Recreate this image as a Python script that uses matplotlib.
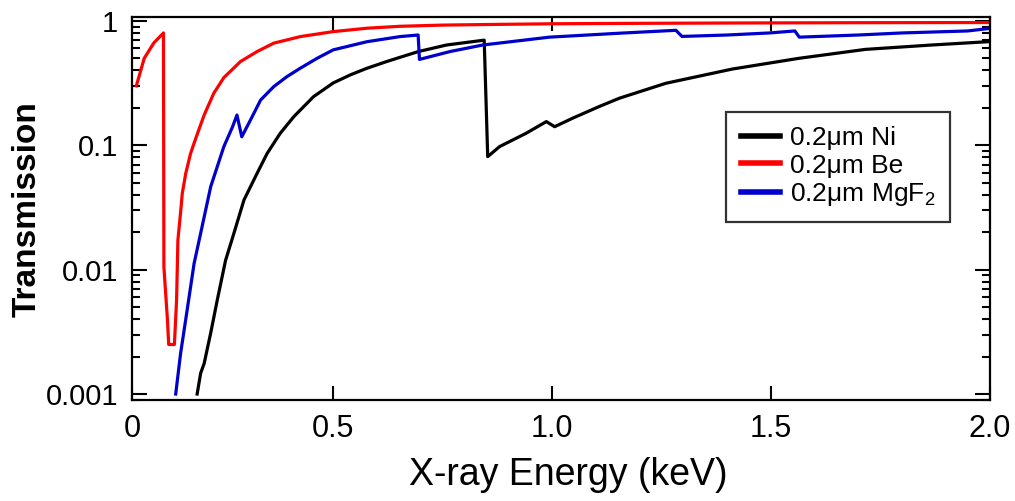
import matplotlib
matplotlib.use("Agg")
import matplotlib.pyplot as plt
from matplotlib.ticker import FixedLocator, LogLocator, NullFormatter, FixedFormatter

plt.rcParams['font.family'] = ['Liberation Sans', 'DejaVu Sans']
plt.rcParams['mathtext.fontset'] = 'custom'
plt.rcParams['mathtext.rm'] = 'Liberation Sans'
plt.rcParams['mathtext.it'] = 'Liberation Sans'

# Transmission curves (energy in keV)
ni_energy = [0.189, 0.197, 0.205, 0.220, 0.235, 0.254, 0.273, 0.296, 0.326, 0.349,
             0.379, 0.410, 0.455, 0.500, 0.539, 0.577, 0.622, 0.653, 0.694, 0.759,
             0.845, 0.853, 0.880, 0.941, 0.987, 1.006, 1.047, 1.108, 1.154, 1.260,
             1.412, 1.564, 1.716, 1.868, 1.995]
ni_trans = [0.001, 0.00147, 0.00176, 0.0031, 0.0057, 0.0119, 0.0196, 0.0363, 0.0595, 0.086,
            0.125, 0.17, 0.246, 0.317, 0.368, 0.416, 0.471, 0.51, 0.566, 0.64,
            0.70, 0.081, 0.0975, 0.125, 0.155, 0.141, 0.165, 0.205, 0.239, 0.315,
            0.41, 0.50, 0.59, 0.64, 0.68]

be_energy = [0.050, 0.068, 0.090, 0.112, 0.113, 0.121, 0.124, 0.137, 0.142, 0.145,
             0.151, 0.155, 0.163, 0.174, 0.182, 0.190, 0.205, 0.227, 0.250, 0.288,
             0.326, 0.364, 0.425, 0.500, 0.577, 0.653, 0.750, 0.850, 1.000, 1.200,
             1.430, 1.700, 2.000]
be_trans = [0.30, 0.50, 0.665, 0.80, 0.0105, 0.004, 0.0025, 0.0025, 0.0057, 0.0173,
            0.0285, 0.041, 0.0596, 0.086, 0.104, 0.125, 0.175, 0.262, 0.35, 0.471,
            0.567, 0.662, 0.748, 0.82, 0.873, 0.905, 0.925, 0.935, 0.948, 0.956,
            0.962, 0.967, 0.97]

mgf2_energy = [0.140, 0.151, 0.166, 0.182, 0.197, 0.220, 0.250, 0.270, 0.280, 0.291,
               0.311, 0.334, 0.364, 0.394, 0.425, 0.463, 0.500, 0.577, 0.653, 0.694,
               0.697, 0.767, 0.842, 0.994, 1.154, 1.283, 1.297, 1.400, 1.497, 1.555,
               1.565, 1.700, 1.800, 1.950, 2.000]
mgf2_trans = [0.001, 0.0021, 0.0047, 0.0112, 0.0196, 0.0465, 0.0975, 0.141, 0.175, 0.117,
              0.16, 0.231, 0.296, 0.356, 0.417, 0.50, 0.585, 0.68, 0.748, 0.77,
              0.49, 0.567, 0.64, 0.74, 0.796, 0.84, 0.75, 0.77, 0.80, 0.83,
              0.74, 0.77, 0.80, 0.83, 0.87]

labels = ['0.2\u03bcm Ni', '0.2\u03bcm Be', '0.2\u03bcm MgF$_2$']
colors = ['black', '#ff0000', '#0000cc']

x_ticks = [0.04, 0.5, 1.0, 1.5, 2.0]
x_tick_labels = ['0', '0.5', '1.0', '1.5', '2.0']
y_ticks = [0.001, 0.01, 0.1, 1]
y_tick_labels = ['0.001', '0.01', '0.1', '1']

fig = plt.figure(figsize=(10.15, 5.01), dpi=100)
ax = fig.add_axes([0.130, 0.2016, 0.845, 0.764])

series = [(ni_energy, ni_trans), (be_energy, be_trans), (mgf2_energy, mgf2_trans)]
for (ex, tr), lab, col in zip(series, labels, colors):
    ax.plot(ex, tr, color=col, lw=2.3, label=lab)

ax.set_yscale('log')
ax.set_xlim(0.04, 2.0)
ax.set_ylim(0.000895, 1.07)

ax.xaxis.set_major_locator(FixedLocator(x_ticks))
ax.xaxis.set_major_formatter(FixedFormatter(x_tick_labels))
ax.yaxis.set_major_locator(FixedLocator(y_ticks))
ax.yaxis.set_major_formatter(FixedFormatter(y_tick_labels))
ax.yaxis.set_minor_locator(LogLocator(base=10, subs=range(2, 10)))
ax.yaxis.set_minor_formatter(NullFormatter())

for s in ax.spines.values():
    s.set_linewidth(1.6)

ax.tick_params(axis='both', which='both', direction='in', top=True, right=True, width=1.5)
ax.tick_params(axis='x', which='major', length=10, pad=10, labelsize=22)
ax.tick_params(axis='y', which='major', length=11, pad=10, labelsize=21)
ax.tick_params(axis='y', which='minor', length=6)

ax.set_xlabel('X-ray Energy (keV)', fontsize=27)
ax.set_ylabel('Transmission', fontsize=24, fontweight='bold')
ax.xaxis.set_label_coords(0.5085, -0.15)
ax.yaxis.set_label_coords(-0.104, 0.5)

leg = ax.legend(loc='upper left', bbox_to_anchor=(0.693, 0.7525), borderaxespad=0,
                fancybox=False, frameon=True, fontsize=19, handlelength=1.5,
                handletextpad=0.35, labelspacing=0.12, borderpad=0.55)
leg.get_frame().set_edgecolor('black')
leg.get_frame().set_linewidth(1.6)
for line in leg.get_lines():
    line.set_linewidth(4)

fig.savefig('out.png', dpi=100)
